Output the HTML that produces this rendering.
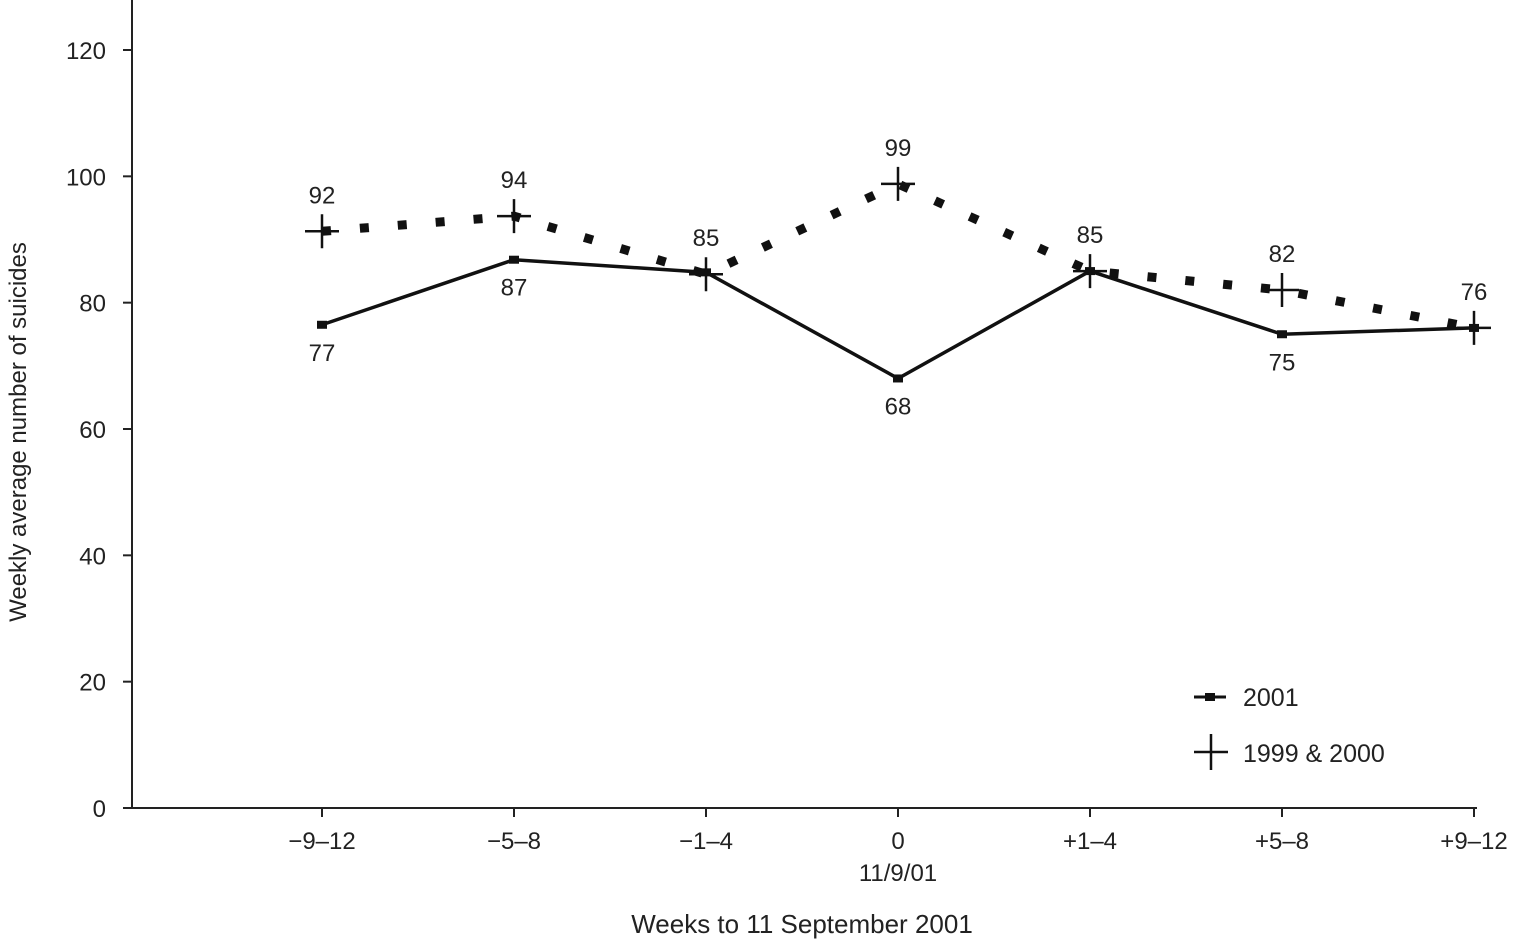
<!DOCTYPE html>
<html><head><meta charset="utf-8"><style>
html,body{margin:0;padding:0;background:#fff;}
svg{display:block;font-family:"Liberation Sans",sans-serif;}
</style></head><body>
<svg id="chart" width="1513" height="950" viewBox="0 0 1513 950"></svg>
<script>
const categories = ["\u22129\u201312","\u22125\u20138","\u22121\u20134","0","+1\u20134","+5\u20138","+9\u201312"];
const values2001 = [76.5,86.8,84.8,68,85,75,76];
const valuesPrior = [91.3,93.7,84.5,98.8,85,82,76];
const labels2001 = ["77","87","","68","","75",""];
const labelsPrior = ["92","94","85","99","85","82","76"];
const yTicks = [0,20,40,60,80,100,120];

const NS="http://www.w3.org/2000/svg";
const svg=document.getElementById('chart');
function el(tag,attrs,parent){const e=document.createElementNS(NS,tag);for(const k in attrs)e.setAttribute(k,attrs[k]);(parent||svg).appendChild(e);return e;}
const x0=132, y0=808;
function xs(i){return 322+i*192;}
function ys(v){return y0-v*(758/120);}

let e;
e=el('line',{x1:x0,y1:0,x2:x0,y2:y0,stroke:'#222','stroke-width':2});


e=el('line',{x1:x0,y1:y0,x2:1477,y2:y0,stroke:'#222','stroke-width':2});



yTicks.forEach(t=>{
  const y=ys(t);
  e=el('line',{x1:x0-9,y1:y,x2:x0,y2:y,stroke:'#222','stroke-width':2});
  
  
  e=el('text',{x:x0-26,y:y+9,'text-anchor':'end','font-size':24,fill:'#222'});
  e.textContent=t;
  
  
});
categories.forEach((c,i)=>{
  const x=xs(i);
  e=el('line',{x1:x,y1:y0,x2:x,y2:y0+9,stroke:'#222','stroke-width':2});
  
  
  e=el('text',{x:x,y:849,'text-anchor':'middle','font-size':24,fill:'#222'});
  e.textContent=c;
  
  
});
e=el('text',{x:898,y:881,'text-anchor':'middle','font-size':24,fill:'#222'});
e.textContent='11/9/01';


e=el('text',{x:802,y:933,'text-anchor':'middle','font-size':26,fill:'#222'});
e.textContent='Weeks to 11 September 2001';


e=el('text',{x:0,y:0,'text-anchor':'middle','font-size':24,fill:'#222',transform:'translate(26,432) rotate(-90)'});
e.textContent='Weekly average number of suicides';



e=el('polyline',{points:valuesPrior.map((v,i)=>xs(i)+','+ys(v)).join(' '),fill:'none',stroke:'#111','stroke-width':9,'stroke-dasharray':'9 29'});


e=el('polyline',{points:values2001.map((v,i)=>xs(i)+','+ys(v)).join(' '),fill:'none',stroke:'#111','stroke-width':3.5});



values2001.forEach((v,i)=>{
  e=el('rect',{x:xs(i)-5,y:ys(v)-4,width:10,height:8,fill:'#111'});
  
  
  if(labels2001[i]){
    e=el('text',{x:xs(i),y:ys(v)+36,'text-anchor':'middle','font-size':24,fill:'#222'});
    e.textContent=labels2001[i];
    
    
  }
});
valuesPrior.forEach((v,i)=>{
  const x=xs(i),y=ys(v);
  e=el('path',{d:`M${x-17},${y}H${x+17}M${x},${y-17}V${y+17}`,stroke:'#111','stroke-width':2.5,fill:'none'});
  
  
  e=el('text',{x:x,y:y-28,'text-anchor':'middle','font-size':24,fill:'#222'});
  e.textContent=labelsPrior[i];
  
  
});

const lg=el('g',{});


el('line',{x1:1194,y1:697,x2:1226,y2:697,stroke:'#111','stroke-width':3},lg);
el('rect',{x:1205,y:693,width:10,height:8,fill:'#111'},lg);
e=el('text',{x:1243,y:706,'font-size':25,fill:'#222'},lg);e.textContent='2001';


el('path',{d:'M1194,752H1228M1211,734V770',stroke:'#111','stroke-width':2.5},lg);
e=el('text',{x:1243,y:762,'font-size':25,fill:'#222'},lg);e.textContent='1999 & 2000';


</script>
</body></html>
